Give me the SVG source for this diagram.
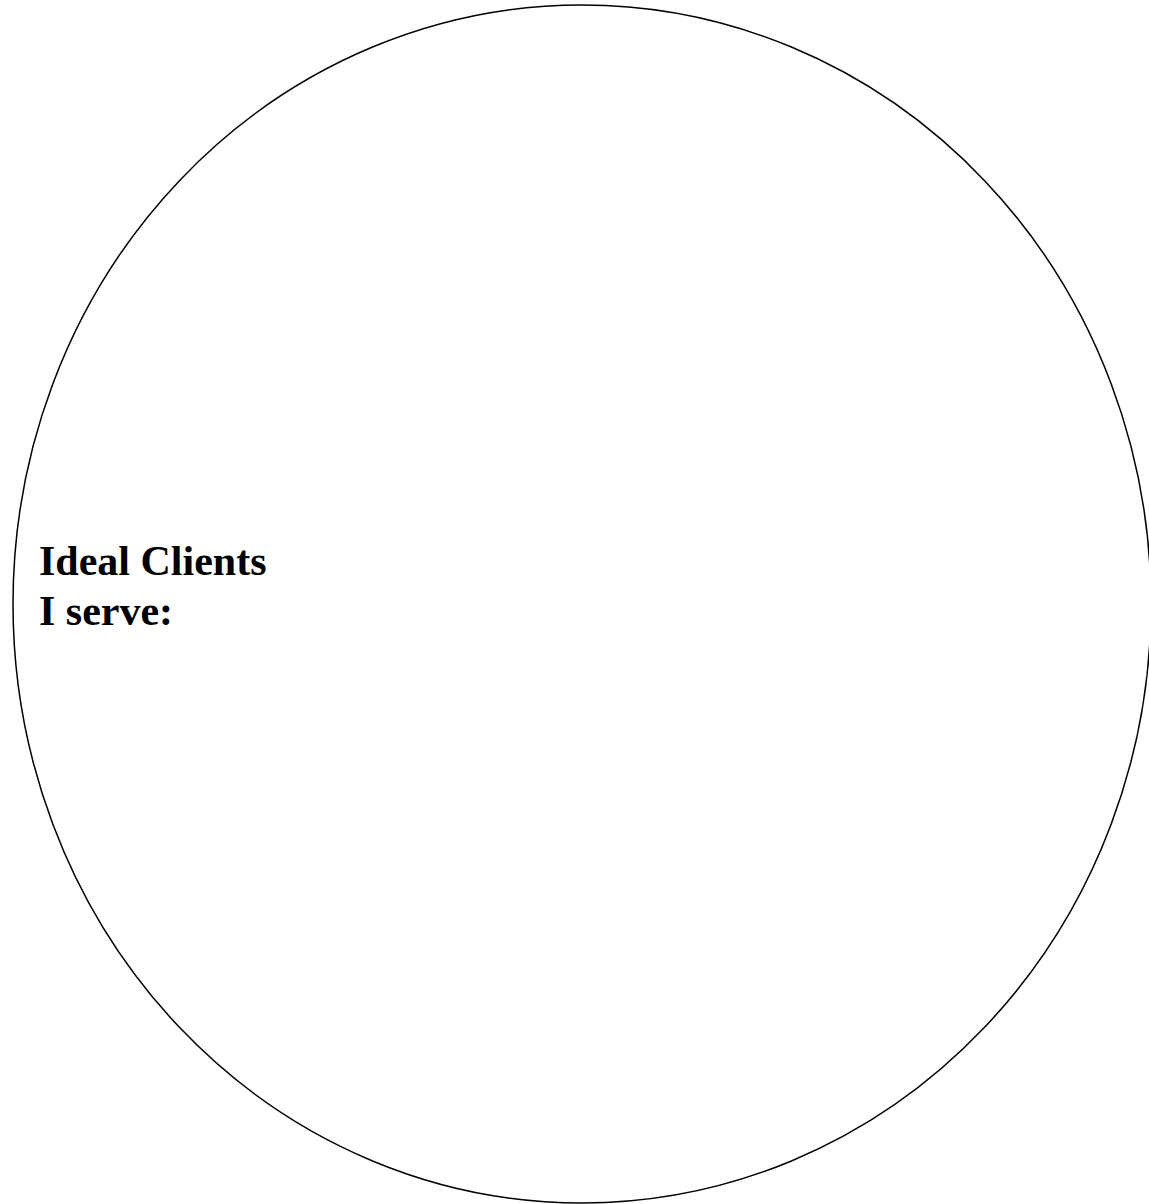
<svg xmlns="http://www.w3.org/2000/svg" width="1149" height="1204" viewBox="0 0 1149 1204">
<style>
.shape{fill:#fff;stroke:#000;stroke-width:1.5}
.lbl{font-family:"Liberation Serif","Times New Roman",serif;font-weight:bold;font-size:42px;fill:#000}
</style>
<rect width="1149" height="1204" fill="#fff"/>
<g id="circle">
<ellipse class="shape" cx="582" cy="604" rx="569" ry="599"/>
<text class="lbl" x="39" y="575">Ideal Clients</text>
<text class="lbl" x="39" y="625">I serve:</text>
</g>
<g id="connectors"/>
</svg>
